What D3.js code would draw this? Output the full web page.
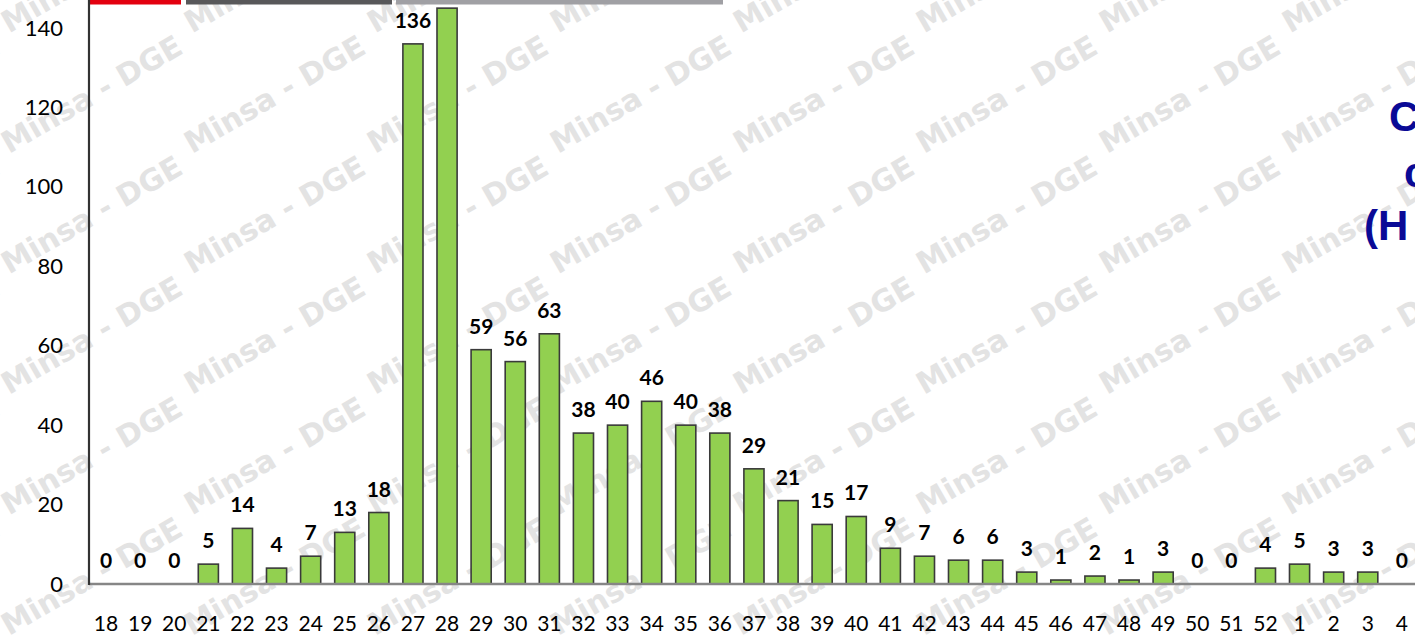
<!DOCTYPE html>
<html>
<head>
<meta charset="utf-8">
<script src="https://cdn.jsdelivr.net/npm/d3@7"></script>
<style>
  html, body { margin: 0; padding: 0; background: #ffffff; overflow: hidden; }
  svg { display: block; }
</style>
</head>
<body>
<svg id="chart" width="1415" height="636"></svg>
<script>
// ---- data ----
const weeks = ["18","19","20","21","22","23","24","25","26","27","28","29","30","31","32","33","34","35","36","37","38","39","40","41","42","43","44","45","46","47","48","49","50","51","52","1","2","3","4"];
const cases = [0,0,0,5,14,4,7,13,18,136,145,59,56,63,38,40,46,40,38,29,21,15,17,9,7,6,6,3,1,2,1,3,0,0,4,5,3,3,0];
const yTicks = [0,20,40,60,80,100,120,140];
const titleLines = ["C", "c", "(H"];
const watermarkText = "Minsa - DGE";
const stripColors = ["#e3000f", "#58585a", "#a0a0a4"];

// ---- layout ----
const W = 1415, H = 636;
const plotLeft = 89, plotBottom = 584, plotTop = 28;
const step = 34.1;
const svg = d3.select("#chart");

const x = d3.scaleBand()
  .domain(weeks)
  .range([plotLeft, plotLeft + step * weeks.length])
  .paddingInner(0.41)
  .paddingOuter(0.205);

const y = d3.scaleLinear().domain([0, 140]).range([plotBottom, plotTop]);

// background
svg.append("rect").attr("width", W).attr("height", H).attr("fill", "#ffffff");

// watermark
const wm = svg.append("g").attr("class", "watermark");
const dx = 183, dy = 120.5;
for (let j = -3; j <= 6; j++) {
  for (let i = -2; i <= 9; i++) {
    const px = 9 + i * dx;
    const py = 154 + j * dy;
    if (px < -260 || px > W + 20 || py < -20 || py > H + 140) continue;
    wm.append("text")
      .attr("transform", `translate(${px},${py}) rotate(-30)`)
      .attr("font-family", "'DejaVu Sans', Verdana, sans-serif")
      .attr("font-weight", "bold")
      .attr("font-size", 30)
      .attr("fill", "#e3e3e3")
      .text(watermarkText);
  }
}

// top strip
const stripBounds = [[89, 181], [186, 392], [396, 723]];
svg.append("g").selectAll("rect").data(stripBounds).join("rect")
  .attr("x", d => d[0]).attr("y", 0)
  .attr("width", d => d[1] - d[0]).attr("height", 4.5)
  .attr("fill", (d, i) => stripColors[i]);

// bars
const data = weeks.map((w, i) => ({ w, v: cases[i] }));
svg.append("g").selectAll("rect").data(data.filter(d => d.v > 0)).join("rect")
  .attr("x", d => x(d.w))
  .attr("y", d => y(d.v))
  .attr("width", x.bandwidth())
  .attr("height", d => y(0) - y(d.v))
  .attr("fill", "#92d050")
  .attr("stroke", "#3a3a3a")
  .attr("stroke-width", 1.6);

// value labels
svg.append("g").selectAll("text").data(data).join("text")
  .attr("x", d => x(d.w) + x.bandwidth() / 2)
  .attr("y", d => y(d.v) - 16)
  .attr("text-anchor", "middle")
  .attr("font-family", "Lato, 'Open Sans', sans-serif")
  .attr("font-weight", "bold")
  .attr("font-size", 21)
  .attr("fill", "#000")
  .text(d => d.v);

// axes
const yAxis = d3.axisLeft(y).tickValues(yTicks).tickSize(0).tickPadding(26);
const gy = svg.append("g").attr("transform", `translate(${plotLeft},0)`).call(yAxis);
gy.select(".domain").remove();
gy.selectAll("text")
  .attr("font-family", "Lato, 'Open Sans', sans-serif")
  .attr("font-size", 22)
  .attr("fill", "#000");

const xAxis = d3.axisBottom(x).tickSize(0).tickPadding(32);
const gx = svg.append("g").attr("transform", `translate(0,${plotBottom})`).call(xAxis);
gx.select(".domain").remove();
gx.selectAll("text")
  .attr("font-family", "Lato, 'Open Sans', sans-serif")
  .attr("font-size", 21)
  .attr("fill", "#000");

svg.append("line")
  .attr("x1", plotLeft).attr("x2", W)
  .attr("y1", plotBottom).attr("y2", plotBottom)
  .attr("stroke", "#868686").attr("stroke-width", 2.4);
svg.append("line")
  .attr("x1", plotLeft).attr("x2", plotLeft)
  .attr("y1", 0).attr("y2", plotBottom + 1)
  .attr("stroke", "#333333").attr("stroke-width", 2.2);

// title fragment (cut off at right)
const titleX = [1389, 1404, 1364];
const titleY = [131, 187, 240];
svg.append("g").selectAll("text").data(titleLines).join("text")
  .attr("x", (d, i) => titleX[i])
  .attr("y", (d, i) => titleY[i])
  .attr("font-family", "'Liberation Sans', Arial, sans-serif")
  .attr("font-weight", "bold")
  .attr("font-size", 42)
  .attr("fill", "#0a0a96")
  .text(d => d);
</script>
</body>
</html>
